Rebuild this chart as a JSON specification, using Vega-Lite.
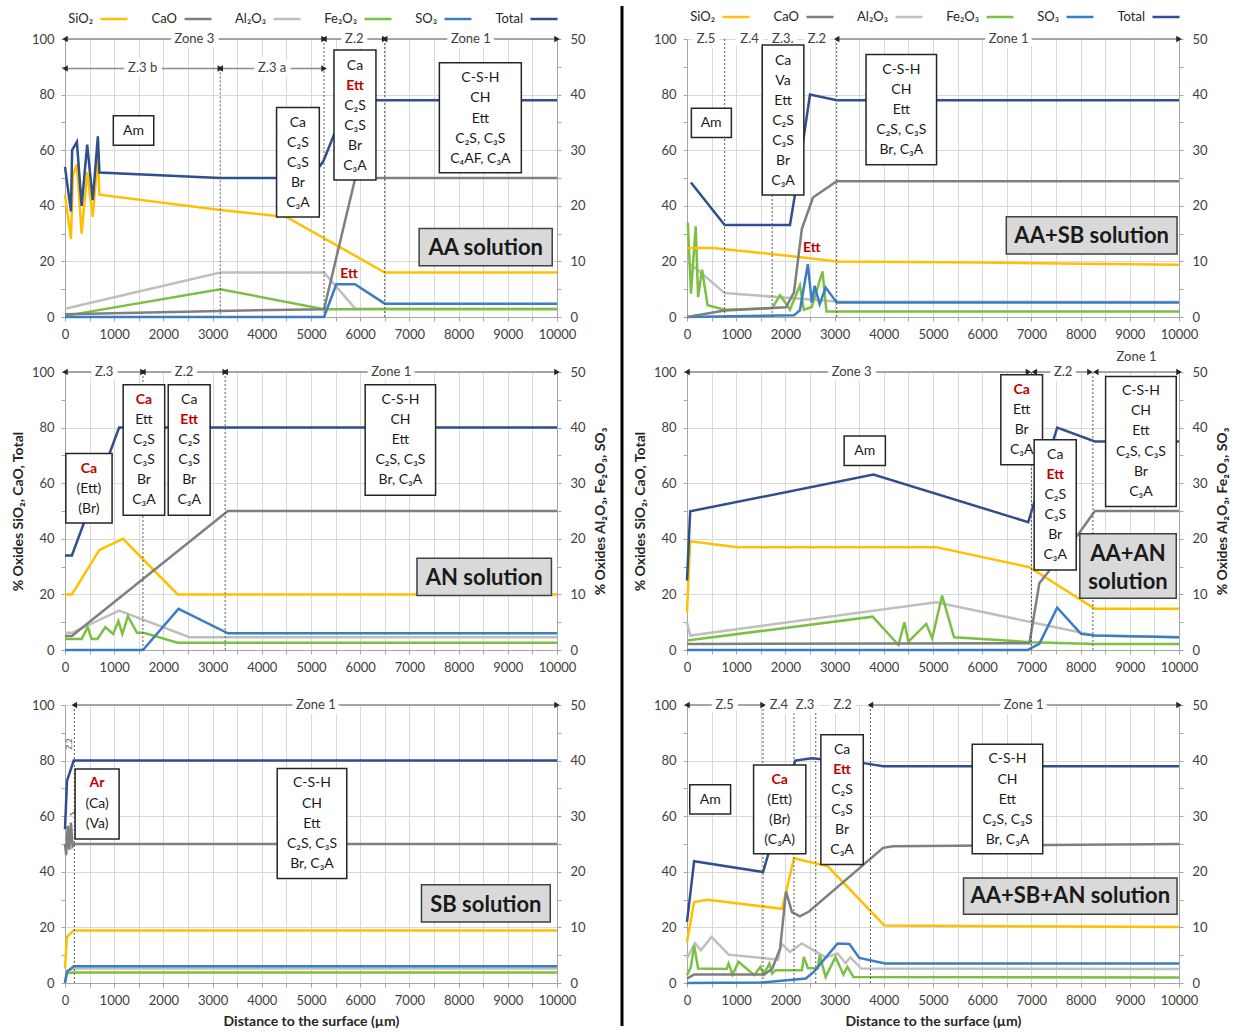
{
"$schema": "https://vega.github.io/schema/vega-lite/v6.json",
"padding": {"left": 11, "top": 2, "right": 5, "bottom": 5},
"columns": 2,
"spacing": {"row": 55, "column": 130},
"bounds": "flush",
"resolve": {"scale": {"color": "independent"}},
"datasets": {
"l1": [
{"x":0,"y":44,"s":"SiO₂"},{"x":121,"y":28,"s":"SiO₂"},{"x":160,"y":51,"s":"SiO₂"},{"x":242,"y":55,"s":"SiO₂"},{"x":338,"y":30,"s":"SiO₂"},{"x":451,"y":52,"s":"SiO₂"},{"x":564,"y":36,"s":"SiO₂"},{"x":668,"y":58,"s":"SiO₂"},{"x":700,"y":44,"s":"SiO₂"},{"x":3156,"y":38.5,"s":"SiO₂"},{"x":4500,"y":36,"s":"SiO₂"},{"x":6500,"y":16,"s":"SiO₂"},{"x":10000,"y":16,"s":"SiO₂"},
{"x":0,"y":1,"s":"CaO"},{"x":3156,"y":2.2,"s":"CaO"},{"x":5265,"y":2.8,"s":"CaO"},{"x":5900,"y":50,"s":"CaO"},{"x":10000,"y":50,"s":"CaO"},
{"x":0,"y":54,"s":"Total"},{"x":121,"y":38,"s":"Total"},{"x":145,"y":60,"s":"Total"},{"x":242,"y":63,"s":"Total"},{"x":338,"y":40,"s":"Total"},{"x":451,"y":62,"s":"Total"},{"x":564,"y":42,"s":"Total"},{"x":668,"y":65,"s":"Total"},{"x":700,"y":52,"s":"Total"},{"x":3156,"y":50,"s":"Total"},{"x":5000,"y":50,"s":"Total"},{"x":5250,"y":56,"s":"Total"},{"x":5500,"y":67,"s":"Total"},{"x":5750,"y":78,"s":"Total"},{"x":10000,"y":78,"s":"Total"}
],
"r1": [
{"x":0,"y":1.5,"s":"Al₂O₃"},{"x":3156,"y":8,"s":"Al₂O₃"},{"x":5265,"y":8,"s":"Al₂O₃"},{"x":5900,"y":1.5,"s":"Al₂O₃"},{"x":10000,"y":1.5,"s":"Al₂O₃"},
{"x":0,"y":0.2,"s":"Fe₂O₃"},{"x":3156,"y":5,"s":"Fe₂O₃"},{"x":5265,"y":1.4,"s":"Fe₂O₃"},{"x":10000,"y":1.4,"s":"Fe₂O₃"},
{"x":0,"y":0,"s":"SO₃"},{"x":5265,"y":0,"s":"SO₃"},{"x":5515,"y":5.9,"s":"SO₃"},{"x":5894,"y":5.9,"s":"SO₃"},{"x":6500,"y":2.4,"s":"SO₃"},{"x":10000,"y":2.4,"s":"SO₃"}
],
"a1": [
{"k":"v","x":3156,"y":89.4,"y2":0},{"k":"v","x":5265,"y":100,"y2":0},{"k":"v","x":6498,"y":100,"y2":0},
{"k":"a","x":0,"x2":5265,"y":100},{"k":"a","x":5265,"x2":6498,"y":100},{"k":"a","x":6498,"x2":10000,"y":100},{"k":"a","x":0,"x2":3156,"y":89.4},{"k":"a","x":3156,"x2":5265,"y":89.4},
{"k":"z","x":2630,"y":100,"t":"Zone 3"},{"k":"z","x":5880,"y":100,"t":"Z.2"},{"k":"z","x":8250,"y":100,"t":"Zone 1"},{"k":"z","x":1578,"y":89.4,"t":"Z.3 b"},{"k":"z","x":4210,"y":89.4,"t":"Z.3 a"},
{"k":"b","x":982,"x2":1804,"y":72.4,"y2":61.8},{"k":"b","x":4300,"x2":5169,"y":75.4,"y2":36.0},{"k":"b","x":5467,"x2":6320,"y":96.0,"y2":49.3},{"k":"b","x":7609,"x2":9275,"y":91.5,"y2":51.9},
{"k":"t","x":1393,"y":67,"t":"Am"},
{"k":"t","x":4734,"y":69.7,"t":"Ca"},{"k":"t","x":4734,"y":62.5,"t":"C₂S"},{"k":"t","x":4734,"y":55.3,"t":"C₃S"},{"k":"t","x":4734,"y":48.1,"t":"Br"},{"k":"t","x":4734,"y":40.9,"t":"C₃A"},
{"k":"t","x":5894,"y":90.4,"t":"Ca"},{"k":"r","x":5894,"y":83.2,"t":"Ett"},{"k":"t","x":5894,"y":76.0,"t":"C₂S"},{"k":"t","x":5894,"y":68.8,"t":"C₃S"},{"k":"t","x":5894,"y":61.6,"t":"Br"},{"k":"t","x":5894,"y":54.4,"t":"C₃A"},
{"k":"t","x":8442,"y":85.8,"t":"C-S-H"},{"k":"t","x":8442,"y":78.6,"t":"CH"},{"k":"t","x":8442,"y":71.4,"t":"Ett"},{"k":"t","x":8442,"y":64.2,"t":"C₂S, C₃S"},{"k":"t","x":8442,"y":57.0,"t":"C₄AF, C₃A"},
{"k":"r","x":5773,"y":15.4,"t":"Ett"},
{"k":"s","x":7198,"x2":9903,"y":31.8,"y2":18.4},{"k":"st","x":8551,"y":25,"t":"AA solution"},
{"k":"sep","x":11321,"y":111.9,"y2":-255}
],
"l2": [
{"x":0,"y":24.8,"s":"SiO₂"},{"x":523,"y":24.8,"s":"SiO₂"},{"x":2174,"y":21.8,"s":"SiO₂"},{"x":3043,"y":20,"s":"SiO₂"},{"x":6000,"y":19.6,"s":"SiO₂"},{"x":10000,"y":18.8,"s":"SiO₂"},
{"x":0,"y":0,"s":"CaO"},{"x":765,"y":2.3,"s":"CaO"},{"x":2013,"y":3.5,"s":"CaO"},{"x":2174,"y":8.9,"s":"CaO"},{"x":2335,"y":31.7,"s":"CaO"},{"x":2560,"y":43,"s":"CaO"},{"x":3043,"y":48.8,"s":"CaO"},{"x":10000,"y":48.8,"s":"CaO"},
{"x":80,"y":48.4,"s":"Total"},{"x":765,"y":33.1,"s":"Total"},{"x":2093,"y":33.1,"s":"Total"},{"x":2250,"y":50,"s":"Total"},{"x":2500,"y":80,"s":"Total"},{"x":3043,"y":78,"s":"Total"},{"x":10000,"y":78,"s":"Total"}
],
"r2": [
{"x":0,"y":10,"s":"Al₂O₃"},{"x":320,"y":7.7,"s":"Al₂O₃"},{"x":765,"y":4.3,"s":"Al₂O₃"},{"x":3043,"y":2.8,"s":"Al₂O₃"},{"x":10000,"y":2.7,"s":"Al₂O₃"},
{"x":16,"y":17,"s":"Fe₂O₃"},{"x":81,"y":4.2,"s":"Fe₂O₃"},{"x":177,"y":16.3,"s":"Fe₂O₃"},{"x":225,"y":3.6,"s":"Fe₂O₃"},{"x":306,"y":8.5,"s":"Fe₂O₃"},{"x":419,"y":2.1,"s":"Fe₂O₃"},{"x":765,"y":1.3,"s":"Fe₂O₃"},{"x":1731,"y":1.6,"s":"Fe₂O₃"},{"x":1892,"y":3.9,"s":"Fe₂O₃"},{"x":2013,"y":2.4,"s":"Fe₂O₃"},{"x":2093,"y":1.3,"s":"Fe₂O₃"},{"x":2295,"y":5.7,"s":"Fe₂O₃"},{"x":2375,"y":1.3,"s":"Fe₂O₃"},{"x":2536,"y":1.8,"s":"Fe₂O₃"},{"x":2754,"y":8.2,"s":"Fe₂O₃"},{"x":2834,"y":1.0,"s":"Fe₂O₃"},{"x":10000,"y":1.0,"s":"Fe₂O₃"},
{"x":0,"y":0,"s":"SO₃"},{"x":2174,"y":0.3,"s":"SO₃"},{"x":2295,"y":1.2,"s":"SO₃"},{"x":2456,"y":9.5,"s":"SO₃"},{"x":2536,"y":2.6,"s":"SO₃"},{"x":2593,"y":5.6,"s":"SO₃"},{"x":2697,"y":2.3,"s":"SO₃"},{"x":2818,"y":5.3,"s":"SO₃"},{"x":3019,"y":2.9,"s":"SO₃"},{"x":3043,"y":2.6,"s":"SO₃"},{"x":10000,"y":2.6,"s":"SO₃"}
],
"a2": [
{"k":"v","x":765,"y":100,"y2":0},{"k":"v","x":1731,"y":100,"y2":0},{"k":"v","x":3043,"y":100,"y2":0},
{"k":"a","x":3043,"x2":10000,"y":100},
{"k":"z","x":386,"y":100,"t":"Z.5"},{"k":"z","x":1272,"y":100,"t":"Z.4"},{"k":"z","x":1948,"y":100,"t":"Z.3."},{"k":"z","x":2641,"y":100,"t":"Z.2"},{"k":"z","x":6538,"y":100,"t":"Zone 1"},
{"k":"b","x":89,"x2":902,"y":75.1,"y2":64.6},{"k":"b","x":1530,"x2":2375,"y":97.8,"y2":43.9},{"k":"b","x":3639,"x2":5072,"y":94.4,"y2":54.8},
{"k":"t","x":491,"y":69.8,"t":"Am"},
{"k":"t","x":1952,"y":92.2,"t":"Ca"},{"k":"t","x":1952,"y":85.0,"t":"Va"},{"k":"t","x":1952,"y":77.8,"t":"Ett"},{"k":"t","x":1952,"y":70.6,"t":"C₂S"},{"k":"t","x":1952,"y":63.4,"t":"C₃S"},{"k":"t","x":1952,"y":56.2,"t":"Br"},{"k":"t","x":1952,"y":49.0,"t":"C₃A"},
{"k":"t","x":4356,"y":89.0,"t":"C-S-H"},{"k":"t","x":4356,"y":81.8,"t":"CH"},{"k":"t","x":4356,"y":74.6,"t":"Ett"},{"k":"t","x":4356,"y":67.4,"t":"C₂S, C₃S"},{"k":"t","x":4356,"y":60.2,"t":"Br, C₃A"},
{"k":"r","x":2536,"y":24.7,"t":"Ett"},
{"k":"s","x":6490,"x2":9960,"y":36.1,"y2":22.7},{"k":"st","x":8225,"y":29.3,"t":"AA+SB solution"}
],
"l3": [
{"x":0,"y":20,"s":"SiO₂"},{"x":140,"y":20,"s":"SiO₂"},{"x":700,"y":36,"s":"SiO₂"},{"x":1180,"y":40,"s":"SiO₂"},{"x":2290,"y":20,"s":"SiO₂"},{"x":10000,"y":20,"s":"SiO₂"},
{"x":0,"y":5,"s":"CaO"},{"x":140,"y":5,"s":"CaO"},{"x":3310,"y":50,"s":"CaO"},{"x":10000,"y":50,"s":"CaO"},
{"x":0,"y":34,"s":"Total"},{"x":140,"y":34,"s":"Total"},{"x":1100,"y":80,"s":"Total"},{"x":10000,"y":80,"s":"Total"}
],
"r3": [
{"x":0,"y":3.1,"s":"Al₂O₃"},{"x":140,"y":3.1,"s":"Al₂O₃"},{"x":1100,"y":7.1,"s":"Al₂O₃"},{"x":2530,"y":2.3,"s":"Al₂O₃"},{"x":10000,"y":2.3,"s":"Al₂O₃"},
{"x":0,"y":2,"s":"Fe₂O₃"},{"x":340,"y":2,"s":"Fe₂O₃"},{"x":460,"y":4.1,"s":"Fe₂O₃"},{"x":540,"y":2,"s":"Fe₂O₃"},{"x":660,"y":2,"s":"Fe₂O₃"},{"x":820,"y":4.1,"s":"Fe₂O₃"},{"x":980,"y":2.9,"s":"Fe₂O₃"},{"x":1085,"y":5.2,"s":"Fe₂O₃"},{"x":1166,"y":2.9,"s":"Fe₂O₃"},{"x":1278,"y":6.1,"s":"Fe₂O₃"},{"x":1463,"y":3.1,"s":"Fe₂O₃"},{"x":1600,"y":3.1,"s":"Fe₂O₃"},{"x":2290,"y":1.3,"s":"Fe₂O₃"},{"x":10000,"y":1.3,"s":"Fe₂O₃"},
{"x":0,"y":0,"s":"SO₃"},{"x":1584,"y":0,"s":"SO₃"},{"x":2307,"y":7.4,"s":"SO₃"},{"x":3312,"y":3,"s":"SO₃"},{"x":10000,"y":3,"s":"SO₃"}
],
"a3": [
{"k":"v","x":1584,"y":100,"y2":0},{"k":"v","x":3256,"y":100,"y2":0},
{"k":"a","x":0,"x2":1584,"y":100},{"k":"a","x":1584,"x2":3256,"y":100},{"k":"a","x":3256,"x2":10000,"y":100},
{"k":"z","x":796,"y":100,"t":"Z.3"},{"k":"z","x":2420,"y":100,"t":"Z.2"},{"k":"z","x":6632,"y":100,"t":"Zone 1"},
{"k":"b","x":16,"x2":957,"y":70.7,"y2":45.7},{"k":"b","x":1182,"x2":2026,"y":95.4,"y2":48.5},{"k":"b","x":2098,"x2":2950,"y":95.4,"y2":48.5},{"k":"b","x":6101,"x2":7532,"y":95.4,"y2":55.7},
{"k":"r","x":486,"y":65.2,"t":"Ca"},{"k":"t","x":486,"y":58.0,"t":"(Ett)"},{"k":"t","x":486,"y":50.8,"t":"(Br)"},
{"k":"r","x":1604,"y":89.8,"t":"Ca"},{"k":"t","x":1604,"y":82.6,"t":"Ett"},{"k":"t","x":1604,"y":75.4,"t":"C₂S"},{"k":"t","x":1604,"y":68.2,"t":"C₃S"},{"k":"t","x":1604,"y":61.0,"t":"Br"},{"k":"t","x":1604,"y":53.8,"t":"C₃A"},
{"k":"t","x":2524,"y":89.8,"t":"Ca"},{"k":"r","x":2524,"y":82.6,"t":"Ett"},{"k":"t","x":2524,"y":75.4,"t":"C₂S"},{"k":"t","x":2524,"y":68.2,"t":"C₃S"},{"k":"t","x":2524,"y":61.0,"t":"Br"},{"k":"t","x":2524,"y":53.8,"t":"C₃A"},
{"k":"t","x":6817,"y":89.8,"t":"C-S-H"},{"k":"t","x":6817,"y":82.6,"t":"CH"},{"k":"t","x":6817,"y":75.4,"t":"Ett"},{"k":"t","x":6817,"y":68.2,"t":"C₂S, C₃S"},{"k":"t","x":6817,"y":61.0,"t":"Br, C₃A"},
{"k":"s","x":7154,"x2":9887,"y":33.0,"y2":19.6},{"k":"st","x":8521,"y":25.9,"t":"AN solution"}
],
"l4": [
{"x":0,"y":13.6,"s":"SiO₂"},{"x":65,"y":39.1,"s":"SiO₂"},{"x":1032,"y":37,"s":"SiO₂"},{"x":5065,"y":37,"s":"SiO₂"},{"x":6960,"y":29.8,"s":"SiO₂"},{"x":8290,"y":14.8,"s":"SiO₂"},{"x":10000,"y":14.8,"s":"SiO₂"},
{"x":0,"y":2.2,"s":"CaO"},{"x":6960,"y":2.4,"s":"CaO"},{"x":7161,"y":24,"s":"CaO"},{"x":7968,"y":42,"s":"CaO"},{"x":8290,"y":50,"s":"CaO"},{"x":10000,"y":50,"s":"CaO"},
{"x":0,"y":25,"s":"Total"},{"x":65,"y":49.9,"s":"Total"},{"x":3790,"y":63.1,"s":"Total"},{"x":6935,"y":46,"s":"Total"},{"x":7524,"y":80,"s":"Total"},{"x":8290,"y":75,"s":"Total"},{"x":10000,"y":75,"s":"Total"}
],
"r4": [
{"x":0,"y":5,"s":"Al₂O₃"},{"x":65,"y":2.6,"s":"Al₂O₃"},{"x":5065,"y":8.6,"s":"Al₂O₃"},{"x":8290,"y":2.6,"s":"Al₂O₃"},{"x":10000,"y":2.3,"s":"Al₂O₃"},
{"x":0,"y":1.7,"s":"Fe₂O₃"},{"x":3774,"y":6,"s":"Fe₂O₃"},{"x":4298,"y":0.9,"s":"Fe₂O₃"},{"x":4419,"y":5,"s":"Fe₂O₃"},{"x":4500,"y":1.5,"s":"Fe₂O₃"},{"x":4863,"y":4.7,"s":"Fe₂O₃"},{"x":4984,"y":2.1,"s":"Fe₂O₃"},{"x":5185,"y":9.8,"s":"Fe₂O₃"},{"x":5427,"y":2.3,"s":"Fe₂O₃"},{"x":7000,"y":1.4,"s":"Fe₂O₃"},{"x":8290,"y":1.1,"s":"Fe₂O₃"},{"x":10000,"y":1.1,"s":"Fe₂O₃"},
{"x":0,"y":0,"s":"SO₃"},{"x":6919,"y":0,"s":"SO₃"},{"x":7161,"y":1.1,"s":"SO₃"},{"x":7524,"y":7.6,"s":"SO₃"},{"x":8008,"y":2.9,"s":"SO₃"},{"x":8290,"y":2.6,"s":"SO₃"},{"x":10000,"y":2.3,"s":"SO₃"}
],
"a4": [
{"k":"v","x":7000,"y":100,"y2":0},{"k":"v","x":8250,"y":100,"y2":0},
{"k":"a","x":0,"x2":6940,"y":100},{"k":"a","x":7060,"x2":8190,"y":100},{"k":"a","x":8310,"x2":10000,"y":100},
{"k":"z","x":3347,"y":100,"t":"Zone 3"},{"k":"z","x":7645,"y":100,"t":"Z.2"},{"k":"z","x":9137,"y":105.5,"t":"Zone 1"},
{"k":"b","x":3194,"x2":4032,"y":77,"y2":66.4},{"k":"b","x":6379,"x2":7226,"y":99,"y2":66.6},{"k":"b","x":7056,"x2":7911,"y":75.6,"y2":28.8},{"k":"b","x":8508,"x2":9944,"y":98.4,"y2":51.6},
{"k":"t","x":3613,"y":71.7,"t":"Am"},
{"k":"r","x":6802,"y":93.4,"t":"Ca"},{"k":"t","x":6802,"y":86.2,"t":"Ett"},{"k":"t","x":6802,"y":79.0,"t":"Br"},{"k":"t","x":6802,"y":71.8,"t":"C₃A"},
{"k":"t","x":7484,"y":70.0,"t":"Ca"},{"k":"r","x":7484,"y":62.8,"t":"Ett"},{"k":"t","x":7484,"y":55.6,"t":"C₂S"},{"k":"t","x":7484,"y":48.4,"t":"C₃S"},{"k":"t","x":7484,"y":41.2,"t":"Br"},{"k":"t","x":7484,"y":34.0,"t":"C₃A"},
{"k":"t","x":9226,"y":93.0,"t":"C-S-H"},{"k":"t","x":9226,"y":85.8,"t":"CH"},{"k":"t","x":9226,"y":78.6,"t":"Ett"},{"k":"t","x":9226,"y":71.4,"t":"C₂S, C₃S"},{"k":"t","x":9226,"y":64.2,"t":"Br"},{"k":"t","x":9226,"y":57.0,"t":"C₃A"},
{"k":"s","x":7984,"x2":9944,"y":41.8,"y2":18.6},{"k":"st","x":8964,"y":34.6,"t":"AA+AN"},{"k":"st","x":8964,"y":24.6,"t":"solution"}
],
"l5": [
{"x":0,"y":5.4,"s":"SiO₂"},{"x":40,"y":16.6,"s":"SiO₂"},{"x":177,"y":18.9,"s":"SiO₂"},{"x":10000,"y":18.9,"s":"SiO₂"},
{"x":0,"y":50,"s":"CaO"},{"x":24,"y":46,"s":"CaO"},{"x":56,"y":56.5,"s":"CaO"},{"x":88,"y":48,"s":"CaO"},{"x":120,"y":57.7,"s":"CaO"},{"x":153,"y":49.3,"s":"CaO"},{"x":177,"y":50,"s":"CaO"},{"x":10000,"y":50,"s":"CaO"},
{"x":0,"y":55.3,"s":"Total"},{"x":40,"y":72.7,"s":"Total"},{"x":177,"y":80,"s":"Total"},{"x":10000,"y":80,"s":"Total"}
],
"r5": [
{"x":0,"y":2,"s":"Al₂O₃"},{"x":40,"y":2.2,"s":"Al₂O₃"},{"x":177,"y":2.6,"s":"Al₂O₃"},{"x":10000,"y":2.6,"s":"Al₂O₃"},
{"x":0,"y":0.3,"s":"Fe₂O₃"},{"x":40,"y":1.8,"s":"Fe₂O₃"},{"x":177,"y":1.9,"s":"Fe₂O₃"},{"x":10000,"y":1.9,"s":"Fe₂O₃"},
{"x":0,"y":0,"s":"SO₃"},{"x":40,"y":2,"s":"SO₃"},{"x":177,"y":3,"s":"SO₃"},{"x":10000,"y":3,"s":"SO₃"}
],
"a5": [
{"k":"v","x":190,"y":100,"y2":0},
{"k":"a","x":190,"x2":10000,"y":100},
{"k":"z","x":5100,"y":100,"t":"Zone 1"},
{"k":"zs","x":104,"y":86,"t":"Z.2"},
{"k":"ld","x":366,"y":63.7,"x2":100,"y2":60.4},
{"k":"b","x":205,"x2":1100,"y":77,"y2":51.8},{"k":"b","x":4313,"x2":5727,"y":77.2,"y2":37.6},
{"k":"r","x":652,"y":71.8,"t":"Ar"},{"k":"t","x":652,"y":64.3,"t":"(Ca)"},{"k":"t","x":652,"y":57.1,"t":"(Va)"},
{"k":"t","x":5020,"y":71.8,"t":"C-S-H"},{"k":"t","x":5020,"y":64.3,"t":"CH"},{"k":"t","x":5020,"y":57.1,"t":"Ett"},{"k":"t","x":5020,"y":49.9,"t":"C₂S, C₃S"},{"k":"t","x":5020,"y":42.7,"t":"Br, C₃A"},
{"k":"s","x":7245,"x2":9863,"y":35.3,"y2":21.9},{"k":"st","x":8554,"y":28.2,"t":"SB solution"}
],
"l6": [
{"x":0,"y":14.7,"s":"SiO₂"},{"x":145,"y":29.1,"s":"SiO₂"},{"x":419,"y":29.9,"s":"SiO₂"},{"x":1932,"y":26.7,"s":"SiO₂"},{"x":2174,"y":44.9,"s":"SiO₂"},{"x":2858,"y":42,"s":"SiO₂"},{"x":4010,"y":20.7,"s":"SiO₂"},{"x":10000,"y":20.1,"s":"SiO₂"},
{"x":0,"y":1.6,"s":"CaO"},{"x":145,"y":3.1,"s":"CaO"},{"x":1570,"y":3.1,"s":"CaO"},{"x":1731,"y":5.1,"s":"CaO"},{"x":1892,"y":12.3,"s":"CaO"},{"x":2013,"y":32.9,"s":"CaO"},{"x":2134,"y":25.5,"s":"CaO"},{"x":2295,"y":24,"s":"CaO"},{"x":2480,"y":25.7,"s":"CaO"},{"x":3986,"y":48.6,"s":"CaO"},{"x":4187,"y":49.2,"s":"CaO"},{"x":10000,"y":50,"s":"CaO"},
{"x":0,"y":22,"s":"Total"},{"x":145,"y":43.8,"s":"Total"},{"x":1546,"y":39.9,"s":"Total"},{"x":2200,"y":80,"s":"Total"},{"x":2536,"y":80.8,"s":"Total"},{"x":3623,"y":79,"s":"Total"},{"x":3986,"y":78,"s":"Total"},{"x":10000,"y":78,"s":"Total"}
],
"r6": [
{"x":0,"y":4.4,"s":"Al₂O₃"},{"x":161,"y":7.2,"s":"Al₂O₃"},{"x":282,"y":5.9,"s":"Al₂O₃"},{"x":499,"y":8.3,"s":"Al₂O₃"},{"x":845,"y":5.1,"s":"Al₂O₃"},{"x":1530,"y":4.5,"s":"Al₂O₃"},{"x":1852,"y":4.2,"s":"Al₂O₃"},{"x":1916,"y":7.1,"s":"Al₂O₃"},{"x":2093,"y":5.6,"s":"Al₂O₃"},{"x":2335,"y":7.1,"s":"Al₂O₃"},{"x":2818,"y":4.6,"s":"Al₂O₃"},{"x":3060,"y":5.3,"s":"Al₂O₃"},{"x":3221,"y":3.6,"s":"Al₂O₃"},{"x":3320,"y":4.6,"s":"Al₂O₃"},{"x":3543,"y":2.6,"s":"Al₂O₃"},{"x":10000,"y":2.5,"s":"Al₂O₃"},
{"x":0,"y":1.4,"s":"Fe₂O₃"},{"x":81,"y":2.9,"s":"Fe₂O₃"},{"x":145,"y":6.8,"s":"Fe₂O₃"},{"x":225,"y":2.6,"s":"Fe₂O₃"},{"x":805,"y":2.5,"s":"Fe₂O₃"},{"x":845,"y":3.5,"s":"Fe₂O₃"},{"x":926,"y":1.5,"s":"Fe₂O₃"},{"x":1047,"y":3.8,"s":"Fe₂O₃"},{"x":1369,"y":1.4,"s":"Fe₂O₃"},{"x":1490,"y":2.9,"s":"Fe₂O₃"},{"x":1560,"y":1.6,"s":"Fe₂O₃"},{"x":1675,"y":3.5,"s":"Fe₂O₃"},{"x":1731,"y":1.7,"s":"Fe₂O₃"},{"x":1800,"y":2.3,"s":"Fe₂O₃"},{"x":2335,"y":2.3,"s":"Fe₂O₃"},{"x":2375,"y":4.7,"s":"Fe₂O₃"},{"x":2456,"y":2.7,"s":"Fe₂O₃"},{"x":2657,"y":2.6,"s":"Fe₂O₃"},{"x":2697,"y":5,"s":"Fe₂O₃"},{"x":2818,"y":1.1,"s":"Fe₂O₃"},{"x":3019,"y":4.7,"s":"Fe₂O₃"},{"x":3180,"y":1.5,"s":"Fe₂O₃"},{"x":3260,"y":2.9,"s":"Fe₂O₃"},{"x":3382,"y":1.1,"s":"Fe₂O₃"},{"x":10000,"y":1.0,"s":"Fe₂O₃"},
{"x":0,"y":0,"s":"SO₃"},{"x":1530,"y":0.1,"s":"SO₃"},{"x":2415,"y":0.8,"s":"SO₃"},{"x":2577,"y":2,"s":"SO₃"},{"x":3060,"y":7.1,"s":"SO₃"},{"x":3301,"y":7,"s":"SO₃"},{"x":3502,"y":4.5,"s":"SO₃"},{"x":4026,"y":3.5,"s":"SO₃"},{"x":10000,"y":3.5,"s":"SO₃"}
],
"a6": [
{"k":"v","x":1546,"y":100,"y2":0},{"k":"v","x":2174,"y":100,"y2":0},{"k":"v","x":2617,"y":100,"y2":0},{"k":"v","x":3728,"y":100,"y2":0},
{"k":"a","x":0,"x2":1546,"y":100},{"k":"a","x":3728,"x2":10000,"y":100},
{"k":"z","x":765,"y":100,"t":"Z.5"},{"k":"z","x":1868,"y":100,"t":"Z.4"},{"k":"z","x":2399,"y":100,"t":"Z.3"},{"k":"z","x":3164,"y":100,"t":"Z.2"},{"k":"z","x":6844,"y":100,"t":"Zone 1"},
{"k":"b","x":56,"x2":886,"y":71.3,"y2":60.8},{"k":"b","x":1353,"x2":2415,"y":78.4,"y2":46.5},{"k":"b","x":2721,"x2":3583,"y":89.3,"y2":42.6},{"k":"b","x":5797,"x2":7230,"y":85.9,"y2":46.5},
{"k":"t","x":471,"y":66,"t":"Am"},
{"k":"r","x":1884,"y":73.2,"t":"Ca"},{"k":"t","x":1884,"y":66.0,"t":"(Ett)"},{"k":"t","x":1884,"y":58.8,"t":"(Br)"},{"k":"t","x":1884,"y":51.6,"t":"(C₃A)"},
{"k":"t","x":3152,"y":83.8,"t":"Ca"},{"k":"r","x":3152,"y":76.6,"t":"Ett"},{"k":"t","x":3152,"y":69.5,"t":"C₂S"},{"k":"t","x":3152,"y":62.3,"t":"C₃S"},{"k":"t","x":3152,"y":55.1,"t":"Br"},{"k":"t","x":3152,"y":47.9,"t":"C₃A"},
{"k":"t","x":6514,"y":80.4,"t":"C-S-H"},{"k":"t","x":6514,"y":73.2,"t":"CH"},{"k":"t","x":6514,"y":66.0,"t":"Ett"},{"k":"t","x":6514,"y":58.8,"t":"C₂S, C₃S"},{"k":"t","x":6514,"y":51.6,"t":"Br, C₃A"},
{"k":"s","x":5620,"x2":9960,"y":37.8,"y2":24.7},{"k":"st","x":7790,"y":31.3,"t":"AA+SB+AN solution"}
]
},
"concat": [
{
"width": 492, "height": 278,
"encoding": {"x": {"field":"x","type":"quantitative","scale":{"domain":[0,10000],"nice":false,"zero":false},"axis":{"title":null,"format":"d","values":[0,500,1000,1500,2000,2500,3000,3500,4000,4500,5000,5500,6000,6500,7000,7500,8000,8500,9000,9500,10000],"labelExpr":"datum.value % 1000 === 0 ? datum.label : ''"}}},
"layer": [
{"data":{"name":"r1"},"mark":{"type":"line","strokeWidth":2.5},"encoding":{"y":{"field":"y","type":"quantitative","scale":{"domain":[0,50],"nice":false},"axis":{"orient":"right","title":null,"values":[0,5,10,15,20,25,30,35,40,45,50],"labelExpr":"datum.value % 10 === 0 ? datum.label : ''","grid":false}},"color":{"field":"s","type":"nominal","scale":{"domain":["SiO₂","CaO","Al₂O₃","Fe₂O₃","SO₃","Total"],"range":["#FFC000","#7F7F7F","#BFBFBF","#7CC043","#3B7DC4","#2F4F8F"]},"legend":{"orient":"none","legendX":34,"legendY":-35,"direction":"horizontal","title":null,"symbolType":"stroke","symbolSize":729,"symbolStrokeWidth":2.5,"labelAlign":"right","labelOffset":-36,"columnPadding":18,"labelFontSize":13}}}},
{"data":{"name":"a1"},
"encoding":{"y":{"field":"y","type":"quantitative","scale":{"domain":[0,100],"nice":false},"axis":{"orient":"left","title":null,"values":[0,10,20,30,40,50,60,70,80,90,100],"labelExpr":"datum.value % 20 === 0 ? datum.label : ''","grid":true,"gridOpacity":{"condition":{"test":"datum.value % 20 === 0 && datum.value > 0","value":1},"value":0}}}},
"layer": [
{"data":{"name":"l1"},"mark":{"type":"line","strokeWidth":2.5},"encoding":{"color":{"field":"s","type":"nominal","scale":{"domain":["SiO₂","CaO","Al₂O₃","Fe₂O₃","SO₃","Total"],"range":["#FFC000","#7F7F7F","#BFBFBF","#7CC043","#3B7DC4","#2F4F8F"]},"legend":{"orient":"none","legendX":34,"legendY":-35,"direction":"horizontal","title":null,"symbolType":"stroke","symbolSize":729,"symbolStrokeWidth":2.5,"labelAlign":"right","labelOffset":-36,"columnPadding":18,"labelFontSize":13}}}},
{"transform":[{"filter":"datum.k==='v'"}],"mark":{"type":"rule","strokeDash":[2,2],"color":"#595959","strokeWidth":1},"encoding":{"y2":{"field":"y2"}}},
{"transform":[{"filter":"datum.k==='a'"}],"mark":{"type":"rule","color":"#8c8c8c","strokeWidth":1.5},"encoding":{"x2":{"field":"x2"}}},
{"transform":[{"filter":"datum.k==='a'"}],"mark":{"type":"point","shape":"triangle-left","filled":true,"size":40,"color":"#262626","opacity":1}},
{"transform":[{"filter":"datum.k==='a'"}],"mark":{"type":"point","shape":"triangle-right","filled":true,"size":40,"color":"#262626","opacity":1},"encoding":{"x":{"field":"x2","type":"quantitative","scale":{"domain":[0,10000],"nice":false,"zero":false},"axis":{"title":null,"format":"d","values":[0,500,1000,1500,2000,2500,3000,3500,4000,4500,5000,5500,6000,6500,7000,7500,8000,8500,9000,9500,10000],"labelExpr":"datum.value % 1000 === 0 ? datum.label : ''"}}}},
{"transform":[{"filter":"datum.k==='z'"}],"mark":{"type":"text","fontSize":13,"stroke":"white","strokeWidth":10,"strokeJoin":"round","color":"white"},"encoding":{"text":{"field":"t"}}},
{"transform":[{"filter":"datum.k==='z'"}],"mark":{"type":"text","fontSize":13,"color":"#404040"},"encoding":{"text":{"field":"t"}}},
{"transform":[{"filter":"datum.k==='b'"}],"mark":{"type":"rect","fill":"white","stroke":"#262626","strokeWidth":1.5},"encoding":{"x2":{"field":"x2"},"y2":{"field":"y2"}}},
{"transform":[{"filter":"datum.k==='s'"}],"mark":{"type":"rect","fill":"#d9d9d9","stroke":"#404040","strokeWidth":1.5},"encoding":{"x2":{"field":"x2"},"y2":{"field":"y2"}}},
{"transform":[{"filter":"datum.k==='t'"}],"mark":{"type":"text","fontSize":14,"color":"#1a1a1a"},"encoding":{"text":{"field":"t"}}},
{"transform":[{"filter":"datum.k==='r'"}],"mark":{"type":"text","fontSize":14,"fontWeight":"bold","color":"#c00000"},"encoding":{"text":{"field":"t"}}},
{"transform":[{"filter":"datum.k==='st'"}],"mark":{"type":"text","fontSize":22,"fontWeight":"bold","color":"#1a1a1a"},"encoding":{"text":{"field":"t"}}},
{"transform":[{"filter":"datum.k==='sep'"}],"mark":{"type":"rule","color":"black","strokeWidth":3},"encoding":{"y2":{"field":"y2"}}}
]}
],
"resolve": {"scale": {"y": "independent"}}
},
{
"width": 492, "height": 278,
"encoding": {"x": {"field":"x","type":"quantitative","scale":{"domain":[0,10000],"nice":false,"zero":false},"axis":{"title":null,"format":"d","values":[0,500,1000,1500,2000,2500,3000,3500,4000,4500,5000,5500,6000,6500,7000,7500,8000,8500,9000,9500,10000],"labelExpr":"datum.value % 1000 === 0 ? datum.label : ''"}}},
"layer": [
{"data":{"name":"r2"},"mark":{"type":"line","strokeWidth":2.5},"encoding":{"y":{"field":"y","type":"quantitative","scale":{"domain":[0,50],"nice":false},"axis":{"orient":"right","title":null,"values":[0,5,10,15,20,25,30,35,40,45,50],"labelExpr":"datum.value % 10 === 0 ? datum.label : ''","grid":false}},"color":{"field":"s","type":"nominal","scale":{"domain":["SiO₂","CaO","Al₂O₃","Fe₂O₃","SO₃","Total"],"range":["#FFC000","#7F7F7F","#BFBFBF","#7CC043","#3B7DC4","#2F4F8F"]},"legend":{"orient":"none","legendX":34,"legendY":-37,"direction":"horizontal","title":null,"symbolType":"stroke","symbolSize":729,"symbolStrokeWidth":2.5,"labelAlign":"right","labelOffset":-36,"columnPadding":18,"labelFontSize":13}}}},
{"data":{"name":"a2"},
"encoding":{"y":{"field":"y","type":"quantitative","scale":{"domain":[0,100],"nice":false},"axis":{"orient":"left","title":null,"values":[0,10,20,30,40,50,60,70,80,90,100],"labelExpr":"datum.value % 20 === 0 ? datum.label : ''","grid":true,"gridOpacity":{"condition":{"test":"datum.value % 20 === 0 && datum.value > 0","value":1},"value":0}}}},
"layer": [
{"data":{"name":"l2"},"mark":{"type":"line","strokeWidth":2.5},"encoding":{"color":{"field":"s","type":"nominal","scale":{"domain":["SiO₂","CaO","Al₂O₃","Fe₂O₃","SO₃","Total"],"range":["#FFC000","#7F7F7F","#BFBFBF","#7CC043","#3B7DC4","#2F4F8F"]},"legend":{"orient":"none","legendX":34,"legendY":-37,"direction":"horizontal","title":null,"symbolType":"stroke","symbolSize":729,"symbolStrokeWidth":2.5,"labelAlign":"right","labelOffset":-36,"columnPadding":18,"labelFontSize":13}}}},
{"transform":[{"filter":"datum.k==='v'"}],"mark":{"type":"rule","strokeDash":[2,2],"color":"#595959","strokeWidth":1},"encoding":{"y2":{"field":"y2"}}},
{"transform":[{"filter":"datum.k==='a'"}],"mark":{"type":"rule","color":"#8c8c8c","strokeWidth":1.5},"encoding":{"x2":{"field":"x2"}}},
{"transform":[{"filter":"datum.k==='a'"}],"mark":{"type":"point","shape":"triangle-left","filled":true,"size":40,"color":"#262626","opacity":1}},
{"transform":[{"filter":"datum.k==='a'"}],"mark":{"type":"point","shape":"triangle-right","filled":true,"size":40,"color":"#262626","opacity":1},"encoding":{"x":{"field":"x2","type":"quantitative","scale":{"domain":[0,10000],"nice":false,"zero":false},"axis":{"title":null,"format":"d","values":[0,500,1000,1500,2000,2500,3000,3500,4000,4500,5000,5500,6000,6500,7000,7500,8000,8500,9000,9500,10000],"labelExpr":"datum.value % 1000 === 0 ? datum.label : ''"}}}},
{"transform":[{"filter":"datum.k==='z'"}],"mark":{"type":"text","fontSize":13,"stroke":"white","strokeWidth":10,"strokeJoin":"round","color":"white"},"encoding":{"text":{"field":"t"}}},
{"transform":[{"filter":"datum.k==='z'"}],"mark":{"type":"text","fontSize":13,"color":"#404040"},"encoding":{"text":{"field":"t"}}},
{"transform":[{"filter":"datum.k==='b'"}],"mark":{"type":"rect","fill":"white","stroke":"#262626","strokeWidth":1.5},"encoding":{"x2":{"field":"x2"},"y2":{"field":"y2"}}},
{"transform":[{"filter":"datum.k==='s'"}],"mark":{"type":"rect","fill":"#d9d9d9","stroke":"#404040","strokeWidth":1.5},"encoding":{"x2":{"field":"x2"},"y2":{"field":"y2"}}},
{"transform":[{"filter":"datum.k==='t'"}],"mark":{"type":"text","fontSize":14,"color":"#1a1a1a"},"encoding":{"text":{"field":"t"}}},
{"transform":[{"filter":"datum.k==='r'"}],"mark":{"type":"text","fontSize":14,"fontWeight":"bold","color":"#c00000"},"encoding":{"text":{"field":"t"}}},
{"transform":[{"filter":"datum.k==='st'"}],"mark":{"type":"text","fontSize":22,"fontWeight":"bold","color":"#1a1a1a"},"encoding":{"text":{"field":"t"}}}
]}
],
"resolve": {"scale": {"y": "independent"}}
},
{
"width": 492, "height": 278,
"encoding": {"x": {"field":"x","type":"quantitative","scale":{"domain":[0,10000],"nice":false,"zero":false},"axis":{"title":null,"format":"d","values":[0,500,1000,1500,2000,2500,3000,3500,4000,4500,5000,5500,6000,6500,7000,7500,8000,8500,9000,9500,10000],"labelExpr":"datum.value % 1000 === 0 ? datum.label : ''"}}},
"layer": [
{"data":{"name":"r3"},"mark":{"type":"line","strokeWidth":2.5},"encoding":{"y":{"field":"y","type":"quantitative","scale":{"domain":[0,50],"nice":false},"axis":{"orient":"right","title":"% Oxides Al₂O₃, Fe₂O₃, SO₃","titleAngle":270,"titleBaseline":"top","values":[0,5,10,15,20,25,30,35,40,45,50],"labelExpr":"datum.value % 10 === 0 ? datum.label : ''","grid":false}},"color":{"field":"s","type":"nominal","scale":{"domain":["SiO₂","CaO","Al₂O₃","Fe₂O₃","SO₃","Total"],"range":["#FFC000","#7F7F7F","#BFBFBF","#7CC043","#3B7DC4","#2F4F8F"]},"legend":null}}},
{"data":{"name":"a3"},
"encoding":{"y":{"field":"y","type":"quantitative","scale":{"domain":[0,100],"nice":false},"axis":{"orient":"left","title":"% Oxides SiO₂, CaO, Total","values":[0,10,20,30,40,50,60,70,80,90,100],"labelExpr":"datum.value % 20 === 0 ? datum.label : ''","grid":true,"gridOpacity":{"condition":{"test":"datum.value % 20 === 0 && datum.value > 0","value":1},"value":0}}}},
"layer": [
{"data":{"name":"l3"},"mark":{"type":"line","strokeWidth":2.5},"encoding":{"color":{"field":"s","type":"nominal","scale":{"domain":["SiO₂","CaO","Al₂O₃","Fe₂O₃","SO₃","Total"],"range":["#FFC000","#7F7F7F","#BFBFBF","#7CC043","#3B7DC4","#2F4F8F"]},"legend":null}}},
{"transform":[{"filter":"datum.k==='v'"}],"mark":{"type":"rule","strokeDash":[2,2],"color":"#595959","strokeWidth":1},"encoding":{"y2":{"field":"y2"}}},
{"transform":[{"filter":"datum.k==='a'"}],"mark":{"type":"rule","color":"#8c8c8c","strokeWidth":1.5},"encoding":{"x2":{"field":"x2"}}},
{"transform":[{"filter":"datum.k==='a'"}],"mark":{"type":"point","shape":"triangle-left","filled":true,"size":40,"color":"#262626","opacity":1}},
{"transform":[{"filter":"datum.k==='a'"}],"mark":{"type":"point","shape":"triangle-right","filled":true,"size":40,"color":"#262626","opacity":1},"encoding":{"x":{"field":"x2","type":"quantitative","scale":{"domain":[0,10000],"nice":false,"zero":false},"axis":{"title":null,"format":"d","values":[0,500,1000,1500,2000,2500,3000,3500,4000,4500,5000,5500,6000,6500,7000,7500,8000,8500,9000,9500,10000],"labelExpr":"datum.value % 1000 === 0 ? datum.label : ''"}}}},
{"transform":[{"filter":"datum.k==='z'"}],"mark":{"type":"text","fontSize":13,"stroke":"white","strokeWidth":10,"strokeJoin":"round","color":"white"},"encoding":{"text":{"field":"t"}}},
{"transform":[{"filter":"datum.k==='z'"}],"mark":{"type":"text","fontSize":13,"color":"#404040"},"encoding":{"text":{"field":"t"}}},
{"transform":[{"filter":"datum.k==='b'"}],"mark":{"type":"rect","fill":"white","stroke":"#262626","strokeWidth":1.5},"encoding":{"x2":{"field":"x2"},"y2":{"field":"y2"}}},
{"transform":[{"filter":"datum.k==='s'"}],"mark":{"type":"rect","fill":"#d9d9d9","stroke":"#404040","strokeWidth":1.5},"encoding":{"x2":{"field":"x2"},"y2":{"field":"y2"}}},
{"transform":[{"filter":"datum.k==='t'"}],"mark":{"type":"text","fontSize":14,"color":"#1a1a1a"},"encoding":{"text":{"field":"t"}}},
{"transform":[{"filter":"datum.k==='r'"}],"mark":{"type":"text","fontSize":14,"fontWeight":"bold","color":"#c00000"},"encoding":{"text":{"field":"t"}}},
{"transform":[{"filter":"datum.k==='st'"}],"mark":{"type":"text","fontSize":22,"fontWeight":"bold","color":"#1a1a1a"},"encoding":{"text":{"field":"t"}}}
]}
],
"resolve": {"scale": {"y": "independent"}}
},
{
"width": 492, "height": 278,
"encoding": {"x": {"field":"x","type":"quantitative","scale":{"domain":[0,10000],"nice":false,"zero":false},"axis":{"title":null,"format":"d","values":[0,500,1000,1500,2000,2500,3000,3500,4000,4500,5000,5500,6000,6500,7000,7500,8000,8500,9000,9500,10000],"labelExpr":"datum.value % 1000 === 0 ? datum.label : ''"}}},
"layer": [
{"data":{"name":"r4"},"mark":{"type":"line","strokeWidth":2.5},"encoding":{"y":{"field":"y","type":"quantitative","scale":{"domain":[0,50],"nice":false},"axis":{"orient":"right","title":"% Oxides Al₂O₃, Fe₂O₃, SO₃","titleAngle":270,"titleBaseline":"top","values":[0,5,10,15,20,25,30,35,40,45,50],"labelExpr":"datum.value % 10 === 0 ? datum.label : ''","grid":false}},"color":{"field":"s","type":"nominal","scale":{"domain":["SiO₂","CaO","Al₂O₃","Fe₂O₃","SO₃","Total"],"range":["#FFC000","#7F7F7F","#BFBFBF","#7CC043","#3B7DC4","#2F4F8F"]},"legend":null}}},
{"data":{"name":"a4"},
"encoding":{"y":{"field":"y","type":"quantitative","scale":{"domain":[0,100],"nice":false},"axis":{"orient":"left","title":"% Oxides SiO₂, CaO, Total","values":[0,10,20,30,40,50,60,70,80,90,100],"labelExpr":"datum.value % 20 === 0 ? datum.label : ''","grid":true,"gridOpacity":{"condition":{"test":"datum.value % 20 === 0 && datum.value > 0","value":1},"value":0}}}},
"layer": [
{"data":{"name":"l4"},"mark":{"type":"line","strokeWidth":2.5},"encoding":{"color":{"field":"s","type":"nominal","scale":{"domain":["SiO₂","CaO","Al₂O₃","Fe₂O₃","SO₃","Total"],"range":["#FFC000","#7F7F7F","#BFBFBF","#7CC043","#3B7DC4","#2F4F8F"]},"legend":null}}},
{"transform":[{"filter":"datum.k==='v'"}],"mark":{"type":"rule","strokeDash":[2,2],"color":"#595959","strokeWidth":1},"encoding":{"y2":{"field":"y2"}}},
{"transform":[{"filter":"datum.k==='a'"}],"mark":{"type":"rule","color":"#8c8c8c","strokeWidth":1.5},"encoding":{"x2":{"field":"x2"}}},
{"transform":[{"filter":"datum.k==='a'"}],"mark":{"type":"point","shape":"triangle-left","filled":true,"size":40,"color":"#262626","opacity":1}},
{"transform":[{"filter":"datum.k==='a'"}],"mark":{"type":"point","shape":"triangle-right","filled":true,"size":40,"color":"#262626","opacity":1},"encoding":{"x":{"field":"x2","type":"quantitative","scale":{"domain":[0,10000],"nice":false,"zero":false},"axis":{"title":null,"format":"d","values":[0,500,1000,1500,2000,2500,3000,3500,4000,4500,5000,5500,6000,6500,7000,7500,8000,8500,9000,9500,10000],"labelExpr":"datum.value % 1000 === 0 ? datum.label : ''"}}}},
{"transform":[{"filter":"datum.k==='z'"}],"mark":{"type":"text","fontSize":13,"stroke":"white","strokeWidth":10,"strokeJoin":"round","color":"white"},"encoding":{"text":{"field":"t"}}},
{"transform":[{"filter":"datum.k==='z'"}],"mark":{"type":"text","fontSize":13,"color":"#404040"},"encoding":{"text":{"field":"t"}}},
{"transform":[{"filter":"datum.k==='b'"}],"mark":{"type":"rect","fill":"white","stroke":"#262626","strokeWidth":1.5},"encoding":{"x2":{"field":"x2"},"y2":{"field":"y2"}}},
{"transform":[{"filter":"datum.k==='s'"}],"mark":{"type":"rect","fill":"#d9d9d9","stroke":"#404040","strokeWidth":1.5},"encoding":{"x2":{"field":"x2"},"y2":{"field":"y2"}}},
{"transform":[{"filter":"datum.k==='t'"}],"mark":{"type":"text","fontSize":14,"color":"#1a1a1a"},"encoding":{"text":{"field":"t"}}},
{"transform":[{"filter":"datum.k==='r'"}],"mark":{"type":"text","fontSize":14,"fontWeight":"bold","color":"#c00000"},"encoding":{"text":{"field":"t"}}},
{"transform":[{"filter":"datum.k==='st'"}],"mark":{"type":"text","fontSize":22,"fontWeight":"bold","color":"#1a1a1a"},"encoding":{"text":{"field":"t"}}}
]}
],
"resolve": {"scale": {"y": "independent"}}
},
{
"width": 492, "height": 278,
"encoding": {"x": {"field":"x","type":"quantitative","scale":{"domain":[0,10000],"nice":false,"zero":false},"axis":{"title":"Distance to the surface (µm)","format":"d","values":[0,500,1000,1500,2000,2500,3000,3500,4000,4500,5000,5500,6000,6500,7000,7500,8000,8500,9000,9500,10000],"labelExpr":"datum.value % 1000 === 0 ? datum.label : ''"}}},
"layer": [
{"data":{"name":"r5"},"mark":{"type":"line","strokeWidth":2.5},"encoding":{"y":{"field":"y","type":"quantitative","scale":{"domain":[0,50],"nice":false},"axis":{"orient":"right","title":null,"values":[0,5,10,15,20,25,30,35,40,45,50],"labelExpr":"datum.value % 10 === 0 ? datum.label : ''","grid":false}},"color":{"field":"s","type":"nominal","scale":{"domain":["SiO₂","CaO","Al₂O₃","Fe₂O₃","SO₃","Total"],"range":["#FFC000","#7F7F7F","#BFBFBF","#7CC043","#3B7DC4","#2F4F8F"]},"legend":null}}},
{"data":{"name":"a5"},
"encoding":{"y":{"field":"y","type":"quantitative","scale":{"domain":[0,100],"nice":false},"axis":{"orient":"left","title":null,"values":[0,10,20,30,40,50,60,70,80,90,100],"labelExpr":"datum.value % 20 === 0 ? datum.label : ''","grid":true,"gridOpacity":{"condition":{"test":"datum.value % 20 === 0 && datum.value > 0","value":1},"value":0}}}},
"layer": [
{"data":{"name":"l5"},"mark":{"type":"line","strokeWidth":2.5},"encoding":{"color":{"field":"s","type":"nominal","scale":{"domain":["SiO₂","CaO","Al₂O₃","Fe₂O₃","SO₃","Total"],"range":["#FFC000","#7F7F7F","#BFBFBF","#7CC043","#3B7DC4","#2F4F8F"]},"legend":null}}},
{"transform":[{"filter":"datum.k==='v'"}],"mark":{"type":"rule","strokeDash":[2,2],"color":"#595959","strokeWidth":1},"encoding":{"y2":{"field":"y2"}}},
{"transform":[{"filter":"datum.k==='a'"}],"mark":{"type":"rule","color":"#8c8c8c","strokeWidth":1.5},"encoding":{"x2":{"field":"x2"}}},
{"transform":[{"filter":"datum.k==='a'"}],"mark":{"type":"point","shape":"triangle-left","filled":true,"size":40,"color":"#262626","opacity":1}},
{"transform":[{"filter":"datum.k==='a'"}],"mark":{"type":"point","shape":"triangle-right","filled":true,"size":40,"color":"#262626","opacity":1},"encoding":{"x":{"field":"x2","type":"quantitative","scale":{"domain":[0,10000],"nice":false,"zero":false},"axis":{"title":"Distance to the surface (µm)","format":"d","values":[0,500,1000,1500,2000,2500,3000,3500,4000,4500,5000,5500,6000,6500,7000,7500,8000,8500,9000,9500,10000],"labelExpr":"datum.value % 1000 === 0 ? datum.label : ''"}}}},
{"transform":[{"filter":"datum.k==='z'"}],"mark":{"type":"text","fontSize":13,"stroke":"white","strokeWidth":10,"strokeJoin":"round","color":"white"},"encoding":{"text":{"field":"t"}}},
{"transform":[{"filter":"datum.k==='z'"}],"mark":{"type":"text","fontSize":13,"color":"#404040"},"encoding":{"text":{"field":"t"}}},
{"transform":[{"filter":"datum.k==='zs'"}],"mark":{"type":"text","fontSize":8,"angle":270,"color":"#595959"},"encoding":{"text":{"field":"t"}}},
{"transform":[{"filter":"datum.k==='ld'"}],"mark":{"type":"rule","color":"#262626","strokeWidth":1},"encoding":{"x2":{"field":"x2"},"y2":{"field":"y2"}}},
{"transform":[{"filter":"datum.k==='b'"}],"mark":{"type":"rect","fill":"white","stroke":"#262626","strokeWidth":1.5},"encoding":{"x2":{"field":"x2"},"y2":{"field":"y2"}}},
{"transform":[{"filter":"datum.k==='s'"}],"mark":{"type":"rect","fill":"#d9d9d9","stroke":"#404040","strokeWidth":1.5},"encoding":{"x2":{"field":"x2"},"y2":{"field":"y2"}}},
{"transform":[{"filter":"datum.k==='t'"}],"mark":{"type":"text","fontSize":14,"color":"#1a1a1a"},"encoding":{"text":{"field":"t"}}},
{"transform":[{"filter":"datum.k==='r'"}],"mark":{"type":"text","fontSize":14,"fontWeight":"bold","color":"#c00000"},"encoding":{"text":{"field":"t"}}},
{"transform":[{"filter":"datum.k==='st'"}],"mark":{"type":"text","fontSize":22,"fontWeight":"bold","color":"#1a1a1a"},"encoding":{"text":{"field":"t"}}}
]}
],
"resolve": {"scale": {"y": "independent"}}
},
{
"width": 492, "height": 278,
"encoding": {"x": {"field":"x","type":"quantitative","scale":{"domain":[0,10000],"nice":false,"zero":false},"axis":{"title":"Distance to the surface (µm)","format":"d","values":[0,500,1000,1500,2000,2500,3000,3500,4000,4500,5000,5500,6000,6500,7000,7500,8000,8500,9000,9500,10000],"labelExpr":"datum.value % 1000 === 0 ? datum.label : ''"}}},
"layer": [
{"data":{"name":"r6"},"mark":{"type":"line","strokeWidth":2.5},"encoding":{"y":{"field":"y","type":"quantitative","scale":{"domain":[0,50],"nice":false},"axis":{"orient":"right","title":null,"values":[0,5,10,15,20,25,30,35,40,45,50],"labelExpr":"datum.value % 10 === 0 ? datum.label : ''","grid":false}},"color":{"field":"s","type":"nominal","scale":{"domain":["SiO₂","CaO","Al₂O₃","Fe₂O₃","SO₃","Total"],"range":["#FFC000","#7F7F7F","#BFBFBF","#7CC043","#3B7DC4","#2F4F8F"]},"legend":null}}},
{"data":{"name":"a6"},
"encoding":{"y":{"field":"y","type":"quantitative","scale":{"domain":[0,100],"nice":false},"axis":{"orient":"left","title":null,"values":[0,10,20,30,40,50,60,70,80,90,100],"labelExpr":"datum.value % 20 === 0 ? datum.label : ''","grid":true,"gridOpacity":{"condition":{"test":"datum.value % 20 === 0 && datum.value > 0","value":1},"value":0}}}},
"layer": [
{"data":{"name":"l6"},"mark":{"type":"line","strokeWidth":2.5},"encoding":{"color":{"field":"s","type":"nominal","scale":{"domain":["SiO₂","CaO","Al₂O₃","Fe₂O₃","SO₃","Total"],"range":["#FFC000","#7F7F7F","#BFBFBF","#7CC043","#3B7DC4","#2F4F8F"]},"legend":null}}},
{"transform":[{"filter":"datum.k==='v'"}],"mark":{"type":"rule","strokeDash":[2,2],"color":"#595959","strokeWidth":1},"encoding":{"y2":{"field":"y2"}}},
{"transform":[{"filter":"datum.k==='a'"}],"mark":{"type":"rule","color":"#8c8c8c","strokeWidth":1.5},"encoding":{"x2":{"field":"x2"}}},
{"transform":[{"filter":"datum.k==='a'"}],"mark":{"type":"point","shape":"triangle-left","filled":true,"size":40,"color":"#262626","opacity":1}},
{"transform":[{"filter":"datum.k==='a'"}],"mark":{"type":"point","shape":"triangle-right","filled":true,"size":40,"color":"#262626","opacity":1},"encoding":{"x":{"field":"x2","type":"quantitative","scale":{"domain":[0,10000],"nice":false,"zero":false},"axis":{"title":"Distance to the surface (µm)","format":"d","values":[0,500,1000,1500,2000,2500,3000,3500,4000,4500,5000,5500,6000,6500,7000,7500,8000,8500,9000,9500,10000],"labelExpr":"datum.value % 1000 === 0 ? datum.label : ''"}}}},
{"transform":[{"filter":"datum.k==='z'"}],"mark":{"type":"text","fontSize":13,"stroke":"white","strokeWidth":10,"strokeJoin":"round","color":"white"},"encoding":{"text":{"field":"t"}}},
{"transform":[{"filter":"datum.k==='z'"}],"mark":{"type":"text","fontSize":13,"color":"#404040"},"encoding":{"text":{"field":"t"}}},
{"transform":[{"filter":"datum.k==='b'"}],"mark":{"type":"rect","fill":"white","stroke":"#262626","strokeWidth":1.5},"encoding":{"x2":{"field":"x2"},"y2":{"field":"y2"}}},
{"transform":[{"filter":"datum.k==='s'"}],"mark":{"type":"rect","fill":"#d9d9d9","stroke":"#404040","strokeWidth":1.5},"encoding":{"x2":{"field":"x2"},"y2":{"field":"y2"}}},
{"transform":[{"filter":"datum.k==='t'"}],"mark":{"type":"text","fontSize":14,"color":"#1a1a1a"},"encoding":{"text":{"field":"t"}}},
{"transform":[{"filter":"datum.k==='r'"}],"mark":{"type":"text","fontSize":14,"fontWeight":"bold","color":"#c00000"},"encoding":{"text":{"field":"t"}}},
{"transform":[{"filter":"datum.k==='st'"}],"mark":{"type":"text","fontSize":22,"fontWeight":"bold","color":"#1a1a1a"},"encoding":{"text":{"field":"t"}}}
]}
],
"resolve": {"scale": {"y": "independent"}}
}
],
"config": {
"font": "Lato",
"view": {"stroke": null},
"axis": {"labelFontSize": 13, "labelColor": "#404040", "domainColor": "#a6a6a6", "tickColor": "#a6a6a6", "tickSize": 4, "gridColor": "#d9d9d9", "labelOverlap": false, "labelFlush": false, "titleFontSize": 14, "titleFontWeight": "bold", "titleColor": "#262626", "labelPadding": 4},
"axisLeft": {"labelPadding": 7, "titlePadding": 6},
"axisRight": {"labelPadding": 9, "titlePadding": 8},
"axisBottom": {"labelPadding": 7, "titlePadding": 7},
"legend": {"labelFontSize": 13, "labelColor": "#262626"}
}
}
